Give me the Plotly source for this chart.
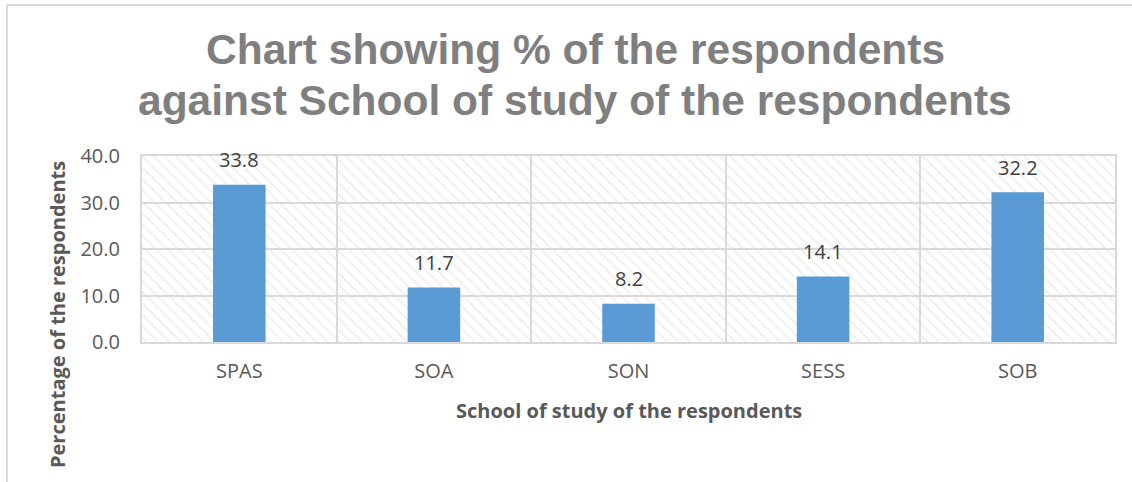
import plotly.graph_objects as go

categories = ["SPAS", "SOA", "SON", "SESS", "SOB"]
percentages = [33.8, 11.7, 8.2, 14.1, 32.2]
y_ticks = [0, 10, 20, 30, 40]
y_tick_labels = ["0.0", "10.0", "20.0", "30.0", "40.0"]
y_max = 40
title_lines = ["Chart showing % of the respondents",
               "against School of study of the respondents"]

W, H = 1132, 482
L, R, T, B = 142, 17, 156, 140
pw, ph = W - L - R, H - T - B

def px_x(x):
    return (x - L) / pw

def px_y(y):
    return (H - B - y) / ph

fig = go.Figure()

# hatched plot-area background
fig.add_trace(go.Bar(
    x=categories, y=[y_max] * len(categories), width=1,
    marker=dict(color="rgba(0,0,0,0)", line=dict(width=0),
                pattern=dict(shape="\\", fgcolor="#dcdcdc", bgcolor="rgba(0,0,0,0)",
                             size=8, solidity=0.2, fillmode="overlay")),
    hoverinfo="skip", showlegend=False,
))

fig.add_trace(go.Bar(
    x=categories, y=percentages, width=0.27,
    marker=dict(color="#5B9BD5", line=dict(width=0)),
    showlegend=False,
))

for c, v in zip(categories, percentages):
    fig.add_annotation(x=c, y=v, text=f"{v:.1f}", showarrow=False,
                       yanchor="middle", yshift=25,
                       font=dict(family="Open Sans", size=20, color="#404040"))

for line, yc in zip(title_lines, [49, 100]):
    fig.add_annotation(text=f"<b>{line}</b>", xref="paper", yref="paper",
                       x=px_x(575), y=px_y(yc), xanchor="center", yanchor="middle",
                       showarrow=False,
                       font=dict(family="Liberation Sans", size=42.5, color="#7f7f7f"))

fig.update_layout(
    width=W, height=H,
    margin=dict(l=L, r=R, t=T, b=B),
    paper_bgcolor="white", plot_bgcolor="white",
    barmode="overlay",
    font=dict(family="Open Sans", size=20, color="#595959"),
)

fig.update_xaxes(
    type="category", tickson="boundaries", showgrid=True, gridcolor="#d9d9d9", gridwidth=2,
    showline=True, linecolor="#d9d9d9", linewidth=2, mirror=True, ticks="",
    ticklabelstandoff=10, tickfont=dict(family="Open Sans", size=20, color="#595959"),
    range=[-0.5, 4.5],
)
fig.update_yaxes(
    range=[0, y_max], tickvals=y_ticks, ticktext=y_tick_labels,
    showgrid=True, gridcolor="#d9d9d9", gridwidth=2, zeroline=False,
    showline=True, linecolor="#d9d9d9", linewidth=2, mirror=True, ticks="",
    ticklabelstandoff=16, tickfont=dict(family="Open Sans", size=20, color="#595959"),
)

fig.add_annotation(text="<b>School of study of the respondents</b>", xref="paper", yref="paper",
                   x=0.5, y=px_y(410), xanchor="center", yanchor="middle", showarrow=False,
                   font=dict(family="Open Sans", size=20, color="#595959"))
fig.add_annotation(text="<b>Percentage of the respondents</b>", xref="paper", yref="paper",
                   x=px_x(57), y=px_y(315), xanchor="center", yanchor="middle", showarrow=False,
                   textangle=-90, font=dict(family="Open Sans", size=20, color="#595959"))

# outer chart frame (top and left edges visible)
fig.add_shape(type="line", xref="paper", yref="paper", x0=px_x(7), x1=px_x(W + 5),
              y0=px_y(5), y1=px_y(5), line=dict(color="#d9d9d9", width=2))
fig.add_shape(type="line", xref="paper", yref="paper", x0=px_x(7), x1=px_x(7),
              y0=px_y(5), y1=px_y(H + 5), line=dict(color="#d9d9d9", width=2))

fig.write_html("out.html")
